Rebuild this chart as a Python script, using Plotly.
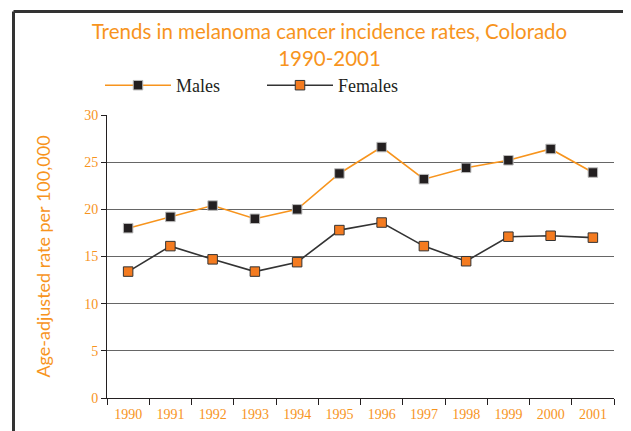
import plotly.graph_objects as go

years = ["1990", "1991", "1992", "1993", "1994", "1995", "1996", "1997", "1998", "1999", "2000", "2001"]
males = [18.0, 19.2, 20.4, 19.0, 20.0, 23.8, 26.6, 23.2, 24.4, 25.2, 26.4, 23.9]
females = [13.4, 16.1, 14.7, 13.4, 14.4, 17.8, 18.6, 16.1, 14.5, 17.1, 17.2, 17.0]

ORANGE = "#F7941D"
DARK = "#231F20"

OFF = 8  # page body margin
W, H = 631 - OFF, 431 - OFF
L, R, T, B = 107 - OFF, 17, 115 - OFF, 33
pw, ph = W - L - R, H - T - B

def px_x(x):
    return (x - OFF - L) / pw

def px_y(y):
    return (H - B - (y - OFF)) / ph

fig = go.Figure()
fig.add_trace(go.Scatter(
    x=years, y=males, name="Males", mode="lines+markers",
    line=dict(color=ORANGE, width=1.6),
    marker=dict(symbol="square", size=9.5, color=DARK, line=dict(color="#BBBBBB", width=1)),
))
fig.add_trace(go.Scatter(
    x=years, y=females, name="Females", mode="lines+markers",
    line=dict(color="#333333", width=1.6),
    marker=dict(symbol="square", size=9.5, color="#F47B20", line=dict(color="#333333", width=1)),
))

fig.update_layout(
    width=W, height=H,
    margin=dict(l=L, r=R, t=T, b=B),
    paper_bgcolor="white", plot_bgcolor="white",
    title=dict(
        text="Trends in melanoma cancer incidence rates, Colorado<br>1990-2001",
        font=dict(family="Lato", size=20.5, color=ORANGE),
        x=(329.5 - OFF) / W, xanchor="center", y=1 - 31 / H, yanchor="top",
    ),
    legend=dict(
        orientation="h", x=px_x(100), xanchor="left", y=px_y(85.5), yanchor="middle",
        font=dict(family="Liberation Serif", size=18, color=DARK),
        itemwidth=66, entrywidth=81, bgcolor="rgba(0,0,0,0)",
    ),
    showlegend=True,
)

fig.update_xaxes(
    type="category", range=[-0.5, 11.5], tickson="boundaries",
    ticks="outside", ticklen=6, tickcolor=DARK, showline=True, linecolor=DARK, linewidth=1,
    showgrid=False, tickfont=dict(family="Liberation Serif", size=14, color=ORANGE),
    ticklabelstandoff=3, automargin=False,
)
fig.update_yaxes(
    range=[0, 30], tickvals=[0, 5, 10, 15, 20, 25, 30], ticks="outside", ticklen=5,
    tickcolor=DARK, showline=True, linecolor=DARK, linewidth=1,
    showgrid=True, gridcolor="#666666", gridwidth=1, zeroline=False,
    tickfont=dict(family="Liberation Serif", size=14, color=ORANGE),
    title=dict(text="Age-adjusted rate per 100,000", font=dict(family="Lato", size=18, color=ORANGE), standoff=28),
    automargin=False,
)

# outer frame (left and top edges)
fig.add_shape(type="line", xref="paper", yref="paper", x0=px_x(13.5), x1=px_x(650), y0=px_y(11.5), y1=px_y(11.5),
              line=dict(color="#333333", width=3))
fig.add_shape(type="line", xref="paper", yref="paper", x0=px_x(13.5), x1=px_x(13.5), y0=px_y(11.5), y1=px_y(450),
              line=dict(color="#333333", width=3))

fig.write_html("out.html")
